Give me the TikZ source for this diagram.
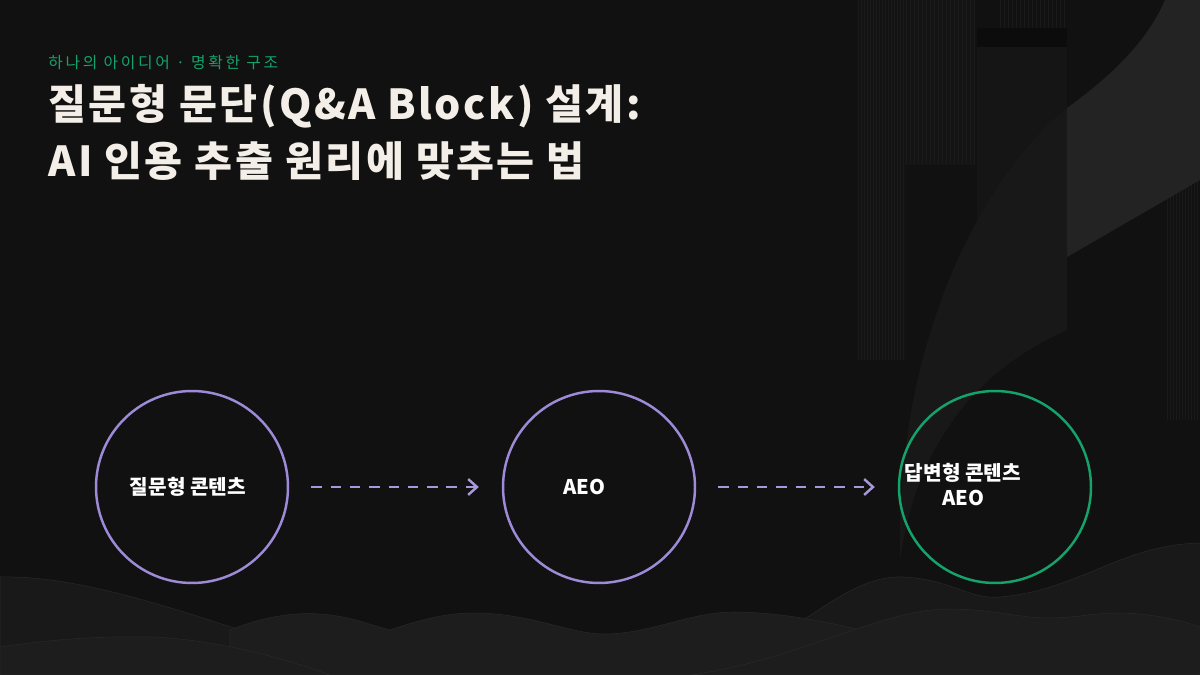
\documentclass[tikz,border=0pt]{standalone}
\usepackage{fontspec}
\setmainfont{Noto Sans CJK KR}
\usetikzlibrary{calc}
\usetikzlibrary{arrows.meta}
\definecolor{bgdark}{HTML}{111111}
\definecolor{stripe}{HTML}{1A1A1A}
\definecolor{panelA}{HTML}{131313}
\definecolor{panelB}{HTML}{141414}
\definecolor{panelC}{HTML}{0C0C0C}
\definecolor{panelD}{HTML}{151515}
\definecolor{swoosh}{HTML}{181818}
\definecolor{swooshlight}{HTML}{232323}
\definecolor{hillback}{HTML}{191919}
\definecolor{hillfront}{HTML}{1D1D1D}
\definecolor{hilledge}{HTML}{282828}
\definecolor{lavender}{HTML}{9D8BD8}
\definecolor{flowline}{HTML}{A898DC}
\definecolor{mint}{HTML}{14A36B}
\definecolor{paper}{HTML}{F3EFE8}

\begin{document}
\begin{tikzpicture}[x=0.02cm,y=-0.02cm,
  stage/.style={circle,draw=lavender,line width=1.4pt,minimum size=3.84cm,inner sep=0pt},
  goal/.style={stage,draw=mint},
  caption/.style={text=white,font=\fontsize{11.5}{14}\selectfont\bfseries,inner sep=0pt,align=center},
  headline/.style={anchor=base west,inner sep=0pt,text=paper,font=\fontsize{23.5}{28}\selectfont\bfseries\addfontfeature{LetterSpace=6}},
  flow/.style={draw=flowline,line width=1.4pt,dash pattern=on 6pt off 5pt,
    -{Straight Barb[length=5pt,width=9pt,line width=1.4pt]},shorten <=0.44cm,shorten >=0.46cm}]
  % Constants
  \pgfmathsetmacro\cy{487}
  % Boundary
  \path[use as bounding box] (0,0) rectangle (1200,675);
  \fill[bgdark] (0,0) rectangle (1200,675);
  % Striped panels
  \fill[panelA] (857,0) rectangle (905,360);
  \fill[panelB] (905,0) rectangle (975,165);
  \fill[panelC] (977,28) rectangle (1067,47);
  \fill[panelD] (977,47) rectangle (1067,330);
  \foreach \x in {858,861,...,904} \draw[stripe,line width=0.3pt] (\x,0) -- (\x,360);
  \foreach \x in {906,910,...,974} \draw[stripe,line width=0.3pt] (\x,0) -- (\x,165);
  \foreach \x in {1000,1004,...,1066} \draw[stripe,line width=0.3pt] (\x,0) -- (\x,28);
  \foreach \x in {1167,1170,...,1199} \draw[stripe,line width=0.3pt] (\x,180) -- (\x,420);
  % Swoosh
  \fill[swoosh] (900,560) .. controls (895,330) and (990,170) .. (1067,108)
    .. controls (1120,70) and (1150,35) .. (1165,0) -- (1200,0) -- (1200,180) -- (1067,257) -- (1067,330)
    .. controls (1000,360) and (920,420) .. (900,560) -- cycle;
  \fill[swooshlight] (1067,108) .. controls (1120,70) and (1150,35) .. (1165,0)
    -- (1200,0) -- (1200,180) -- (1067,257) -- cycle;
  % Hills
  \filldraw[fill=hillback,draw=hilledge,line width=0.3pt] (0,577) .. controls (80,575) and (180,610) .. (300,650) -- (300,675) -- (0,675) -- cycle;
  \filldraw[fill=hillback,draw=hilledge,line width=0.3pt] (760,650) .. controls (820,610) and (860,575) .. (903,577)
    .. controls (950,579) and (970,600) .. (1000,597) .. controls (1080,590) and (1120,545) .. (1200,543) -- (1200,675) -- (760,675) -- cycle;
  \filldraw[fill=hillfront,draw=hilledge,line width=0.3pt] (230,630) .. controls (260,618) and (290,612) .. (320,614)
    .. controls (350,616) and (370,625) .. (390,630) .. controls (420,620) and (445,613) .. (474,613)
    .. controls (530,613) and (570,634) .. (604,634) .. controls (650,634) and (690,612) .. (734,612)
    .. controls (780,612) and (830,622) .. (880,635) -- (880,675) -- (230,675) -- cycle;
  \filldraw[fill=hillfront,draw=hilledge,line width=0.3pt] (0,647) .. controls (60,638) and (110,636) .. (153,637)
    .. controls (220,640) and (290,660) .. (330,675) -- (0,675) -- cycle;
  \filldraw[fill=hillfront,draw=hilledge,line width=0.3pt] (690,675) .. controls (800,660) and (880,609) .. (949,609)
    .. controls (990,609) and (1020,618) .. (1048,618) .. controls (1075,618) and (1095,613) .. (1117,613)
    .. controls (1150,613) and (1180,620) .. (1200,627) -- (1200,675) -- cycle;
  % Heading
  \node[anchor=base west,inner sep=0pt,text=mint,font=\fontsize{9}{11}\selectfont\addfontfeature{LetterSpace=17}] (kicker) at (48,69) {하나의 아이디어 · 명확한 구조};
  \node[headline] (title) at (48,120) {질문형 문단(Q\&A Block) 설계:};
  \node[headline] (subtitle) at (48,177) {AI 인용 추출 원리에 맞추는 법};
  % Stages
  \node[stage] (ask) at (192,\cy) {};
  \node[stage] (aeo) at (599,\cy) {};
  \node[goal] (answer) at (995,\cy) {};
  \node[caption] (asktext) at (188,\cy) {질문형 콘텐츠};
  \node[caption] (aeotext) at (584,\cy) {AEO};
  \node[caption,font=\fontsize{11.5}{14.2}\selectfont\bfseries] (answertext) at (963,485) {답변형 콘텐츠\\AEO};
  % Flow
  \draw[flow] (ask) -- (aeo);
  \draw[flow] (aeo) -- (answer);
\end{tikzpicture}
\end{document}
